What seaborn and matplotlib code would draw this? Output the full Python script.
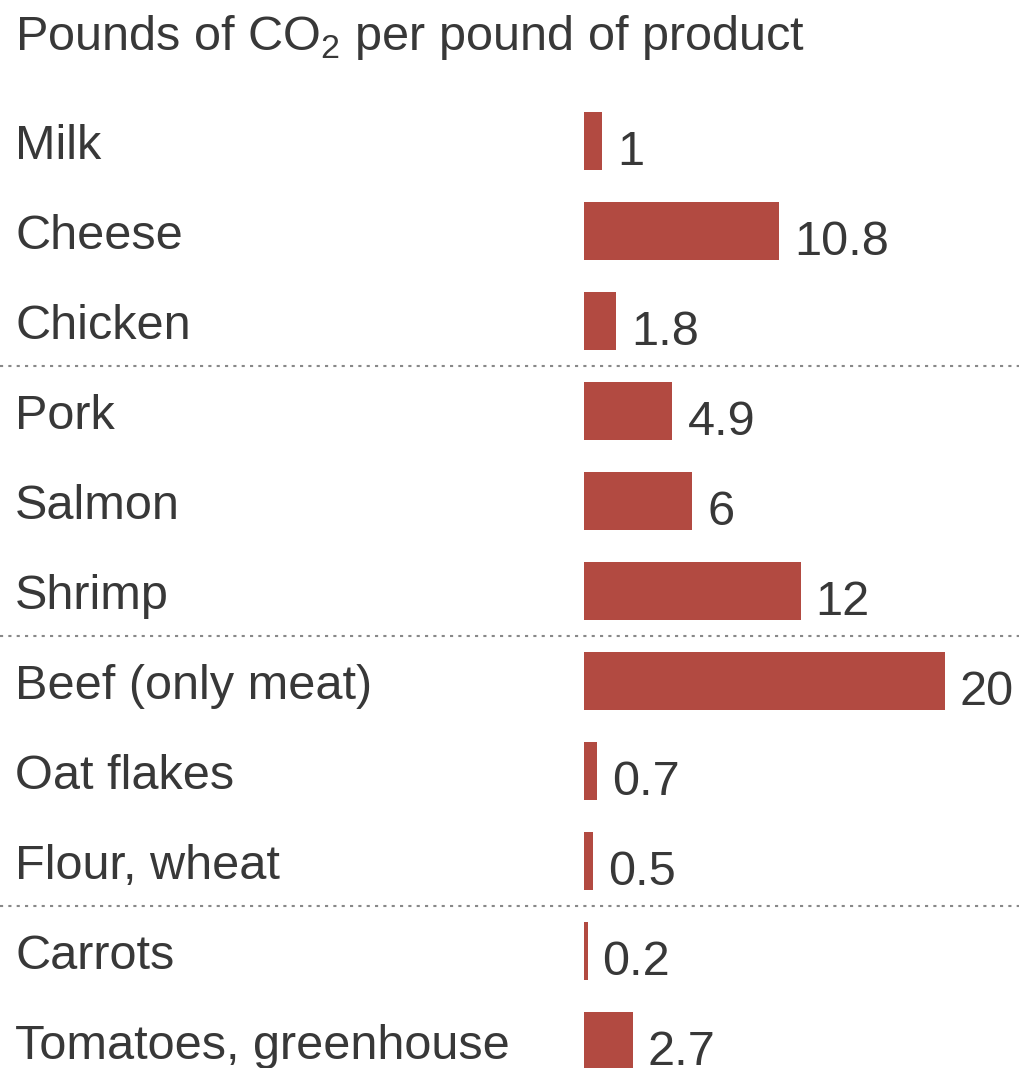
import matplotlib
matplotlib.use("Agg")
import matplotlib.pyplot as plt
import matplotlib.transforms as mtransforms
from matplotlib.lines import Line2D
import seaborn as sns
import pandas as pd

foods = ["Milk", "Cheese", "Chicken", "Pork", "Salmon", "Shrimp",
         "Beef (only meat)", "Oat flakes", "Flour, wheat", "Carrots",
         "Tomatoes, greenhouse"]
co2 = [1, 10.8, 1.8, 4.9, 6, 12, 20, 0.7, 0.5, 0.2, 2.7]
value_labels = ["1", "10.8", "1.8", "4.9", "6", "12", "20", "0.7", "0.5", "0.2", "2.7"]
separators_after = [2, 5, 8]
title = r"Pounds of CO$_\mathregular{2}$ per pound of product"

sns.set_theme(style="white")
plt.rcParams['font.family'] = ['Liberation Sans', 'DejaVu Sans']
plt.rcParams['mathtext.fontset'] = 'custom'
plt.rcParams['mathtext.rm'] = 'Liberation Sans'

W, H = 1019, 1068
fig = plt.figure(figsize=(W / 100, H / 100), dpi=100)
ax = fig.add_axes([584 / W, 0, (W - 584) / W, (H - 80) / H])

df = pd.DataFrame({"food": foods, "co2": co2})
bar_color = "#B24A41"
sns.barplot(data=df, x="co2", y="food", orient="h", color=bar_color,
            width=0.645, saturation=1, ax=ax, edgecolor="none")

ax.set_xlim(0, (W - 584) / 18.05)
ax.set_ylim((1068 - 141) / 90, (80 - 141) / 90)
ax.set_axis_off()

text_color = "#383838"
fs = 35
px2pt = 0.72
for i, (v, lab) in enumerate(zip(co2, value_labels)):
    ax.annotate(lab, xy=(v, i), xytext=(15 * px2pt, -24 * px2pt), textcoords="offset points",
                ha="left", va="baseline", fontsize=fs, color=text_color)

trans = mtransforms.blended_transform_factory(fig.transFigure, ax.transData)
for i, name in enumerate(foods):
    ax.annotate(name, xy=(15 / W, i), xycoords=trans, xytext=(0, -18 * px2pt),
                textcoords="offset points", ha="left", va="baseline",
                fontsize=fs, color=text_color, annotation_clip=False)

for s in separators_after:
    fig.add_artist(Line2D([0, 1], [s + 0.5, s + 0.5], transform=trans,
                          color="#888888", linestyle=(0, (1.5, 2.5)), linewidth=1.5))

fig.text(15 / W, 1 - 50 / H, title, ha="left", va="baseline",
         fontsize=fs, color=text_color)

fig.savefig("out.png", dpi=100, facecolor="white")
